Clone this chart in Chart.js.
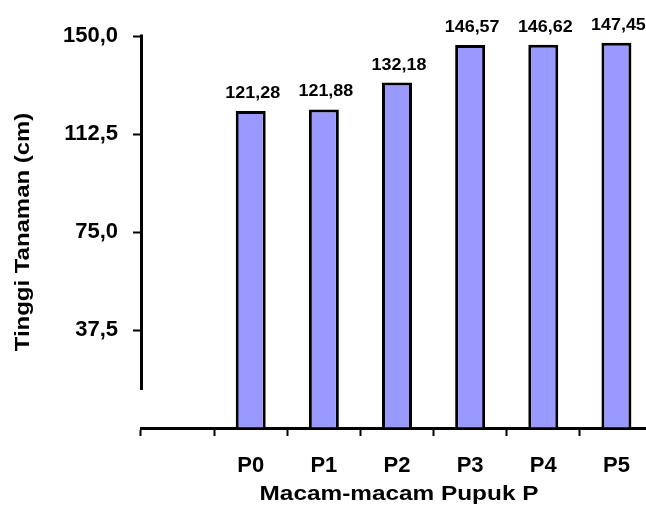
<!DOCTYPE html>
<html>
<head>
<meta charset="utf-8">
<script src="https://cdn.jsdelivr.net/npm/chart.js@4/dist/chart.umd.min.js"></script>
<style>
  html, body { margin: 0; padding: 0; overflow: hidden; background: #fff; }
  canvas { display: block; }
</style>
</head>
<body>
<canvas id="chart" width="660" height="507"></canvas>
<script>
// Data (first category is an empty slot)
const categories = ['', 'P0', 'P1', 'P2', 'P3', 'P4', 'P5'];
const heights = [null, 121.28, 121.88, 132.18, 146.57, 146.62, 147.45];
const yTicks = [0, 37.5, 75, 112.5, 150];
const xTitle = 'Macam-macam Pupuk P';
const yTitle = 'Tinggi Tanaman (cm)';

const FONT = '"Liberation Sans", Arial, sans-serif';

// numbers use a decimal comma
function fmt(v, digits) {
  return v.toFixed(digits).replace('.', ',');
}

// draws the short y axis line, value labels and the axis titles
const decorations = {
  id: 'decorations',
  afterDatasetsDraw(chart) {
    const { ctx, chartArea, scales: { y } } = chart;
    ctx.save();

    // y axis stops short of the x axis, like the original
    ctx.strokeStyle = '#000';
    ctx.lineWidth = 3;
    ctx.beginPath();
    ctx.moveTo(chartArea.left + 0.5, y.getPixelForValue(150) - 1.5);
    ctx.lineTo(chartArea.left + 0.5, y.getPixelForValue(14.5));
    ctx.stroke();

    // value labels over the bars
    ctx.fillStyle = '#000';
    ctx.textAlign = 'center';
    ctx.textBaseline = 'alphabetic';
    ctx.font = 'bold 16px ' + FONT;
    chart.getDatasetMeta(0).data.forEach((bar, i) => {
      if (heights[i] == null) return;
      ctx.save();
      ctx.translate(bar.x + 2, bar.y - 13);
      ctx.scale(1.12, 1);
      ctx.fillText(fmt(heights[i], 2), 0, 0);
      ctx.restore();
    });

    // axis titles
    ctx.font = 'bold 21px ' + FONT;
    ctx.save();
    ctx.translate((chartArea.left + chartArea.right) / 2 + 2, 500);
    ctx.scale(1.16, 1);
    ctx.fillText(xTitle, 0, 0);
    ctx.restore();

    ctx.save();
    ctx.translate(29, (chartArea.top + chartArea.bottom) / 2);
    ctx.rotate(-Math.PI / 2);
    ctx.scale(1.14, 1);
    ctx.fillText(yTitle, 0, 0);
    ctx.restore();

    ctx.restore();
  }
};

const ctx = document.getElementById('chart').getContext('2d');
new Chart(ctx, {
  type: 'bar',
  data: {
    labels: categories,
    datasets: [{
      data: heights,
      backgroundColor: '#9999FF',
      borderColor: '#000',
      borderWidth: 3,
      barPercentage: 0.41,
      categoryPercentage: 1
    }]
  },
  options: {
    responsive: false,
    animation: false,
    devicePixelRatio: 1,
    layout: { padding: { top: 36, right: 7, left: 0, bottom: 0 } },
    plugins: {
      legend: { display: false },
      tooltip: { enabled: false }
    },
    scales: {
      x: {
        offset: true,
        border: { display: true, color: '#000', width: 3 },
        grid: {
          offset: true,
          drawOnChartArea: false,
          drawTicks: true,
          tickLength: 8,
          tickWidth: 2,
          tickColor: '#000'
        },
        ticks: {
          color: '#000',
          padding: 17,
          maxRotation: 0,
          autoSkip: false,
          font: { family: FONT, size: 22, weight: 'bold' }
        },
        afterFit(scale) { scale.height = 79; }
      },
      y: {
        min: 0,
        max: 150,
        border: { display: false },
        grid: {
          drawOnChartArea: false,
          drawTicks: true,
          tickLength: 8,
          tickWidth: 2,
          tickColor: c => (c.tick && c.tick.value === 0 ? 'rgba(0,0,0,0)' : '#000')
        },
        afterBuildTicks(scale) {
          scale.ticks = yTicks.map(v => ({ value: v }));
        },
        ticks: {
          color: '#000',
          padding: 15,
          font: { family: FONT, size: 22, weight: 'bold' },
          callback: v => (v === 0 ? '' : fmt(v, 1))
        },
        afterFit(scale) { scale.width = 141; }
      }
    }
  },
  plugins: [decorations]
});
</script>
</body>
</html>
